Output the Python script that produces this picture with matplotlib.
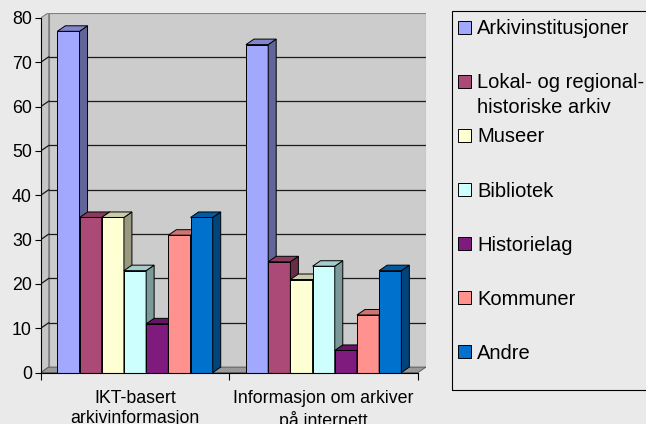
import matplotlib
matplotlib.use("Agg")
import matplotlib.pyplot as plt
from matplotlib.patches import Polygon, Rectangle
from matplotlib.colors import to_rgb

categories = ["IKT-basert\narkivinformasjon", "Informasjon om arkiver\npå internett"]
series_names = [
    "Arkivinstitusjoner",
    "Lokal- og regional-\nhistoriske arkiv",
    "Museer",
    "Bibliotek",
    "Historielag",
    "Kommuner",
    "Andre",
]
arkivinstitusjoner = [77, 74]
lokal_regional = [35, 25]
museer = [35, 21]
bibliotek = [23, 24]
historielag = [11, 5]
kommuner = [31, 13]
andre = [35, 23]
y_ticks = [0, 10, 20, 30, 40, 50, 60, 70, 80]

series_values = [arkivinstitusjoner, lokal_regional, museer, bibliotek,
                 historielag, kommuner, andre]
colors = ["#A3A8FF", "#AB4A76", "#FFFFD4", "#CDFFFF", "#7F1A7F", "#FF928E", "#0072CE"]

plt.rcParams["font.family"] = ["Liberation Sans", "DejaVu Sans"]

W, H = 646, 424
fig = plt.figure(figsize=(W / 100, H / 100), dpi=100, facecolor="#EAEAEA")

# plot area in pixels (front edge) and depth offset of the 3D effect
x0, x1 = 40.7, 418.0
y0, y_top = 372.6, 18.0
ddx, ddy = 8.0, 5.5

ax = fig.add_axes([x0 / W, 1 - y0 / H, (x1 + ddx - x0) / W, (y0 - y_top + ddy) / H])
ux = (x1 - x0) / 2
uy = (y0 - y_top) / 80
dx, dy = ddx / ux, ddy / uy
ymax = y_ticks[-1]
ax.set_xlim(0, 2 + dx)
ax.set_ylim(0, ymax + dy)
ax.patch.set_visible(False)

# walls and floor
ax.add_patch(Rectangle((dx, dy), 2, ymax, fc="#CCCCCC", ec="#808080", lw=0.8, zorder=0))
ax.add_patch(Polygon([(0, 0), (dx, dy), (dx, ymax + dy), (0, ymax)],
                     fc="#C6C6C6", ec="#808080", lw=0.8, zorder=0.5))
ax.add_patch(Polygon([(0, 0), (2, 0), (2 + dx, dy), (dx, dy)],
                     fc="#999999", ec="#555555", lw=0.6, zorder=0.6))
for v in y_ticks[1:-1]:
    ax.plot([dx, 2 + dx], [v + dy, v + dy], color="#1A1A1A", lw=0.9, zorder=1)
    ax.plot([0, dx], [v, v + dy], color="#1A1A1A", lw=0.9, zorder=1)


def shade(c, f):
    r, g, b = to_rgb(c)
    return (r * f, g * f, b * f)


# 3D-looking clustered columns, gap width 150%
n = len(series_values)
w = 1 / (n + 1.5)
for j, (vals, col) in enumerate(zip(series_values, colors)):
    xs = [i + 0.75 * w + j * w for i in range(len(categories))]
    z = 3 + j * 0.1
    ax.bar(xs, vals, width=w, align="edge", color=col, ec="black", lw=0.7, zorder=z)
    for x, v in zip(xs, vals):
        ax.add_patch(Polygon([(x + w, 0), (x + w + dx, dy), (x + w + dx, v + dy), (x + w, v)],
                             fc=shade(col, 0.6), ec="black", lw=0.7, zorder=z))
        ax.add_patch(Polygon([(x, v), (x + dx, v + dy), (x + w + dx, v + dy), (x + w, v)],
                             fc=shade(col, 0.8), ec="black", lw=0.7, zorder=z))

for s in ["top", "right"]:
    ax.spines[s].set_visible(False)
ax.spines["left"].set_bounds(0, ymax)
ax.spines["bottom"].set_bounds(0, 2)
for s in ["left", "bottom"]:
    ax.spines[s].set_linewidth(0.8)
    ax.spines[s].set_zorder(10)

ax.set_yticks(y_ticks)
ax.set_yticklabels([str(t) for t in y_ticks], fontsize=12.8)
ax.tick_params(axis="y", length=4.3, width=0.8, pad=2)
ax.set_xticks([0, 1, 2])
ax.set_xticklabels([])
ax.set_xticks([0.5, 1.5], categories, minor=True)
ax.tick_params(axis="x", which="major", length=5, width=0.8)
ax.tick_params(axis="x", which="minor", length=0, pad=12.5, labelsize=12.8)
for lbl in ax.get_xticklabels(minor=True):
    lbl.set_linespacing(1.25)

# legend box
fig.patches.append(Rectangle((452.3 / W, 1 - 390 / H), 0.5, (390 - 10.7) / H,
                             transform=fig.transFigure, fc="none", ec="black", lw=0.8))
for k, (name, col) in enumerate(zip(series_names, colors)):
    cy = 27.3 + k * 54.1
    fig.patches.append(Rectangle((458.3 / W, 1 - (cy + 6.5) / H), 13 / W, 13 / H,
                                 transform=fig.transFigure, fc=col, ec="black", lw=0.7))
    for li, line in enumerate(name.split("\n")):
        fig.text(477.3 / W, 1 - (cy + 7 + li * 24.3) / H, line,
                 fontsize=14.5, va="baseline", ha="left")

fig.savefig("out.png", dpi=100, facecolor=fig.get_facecolor())
